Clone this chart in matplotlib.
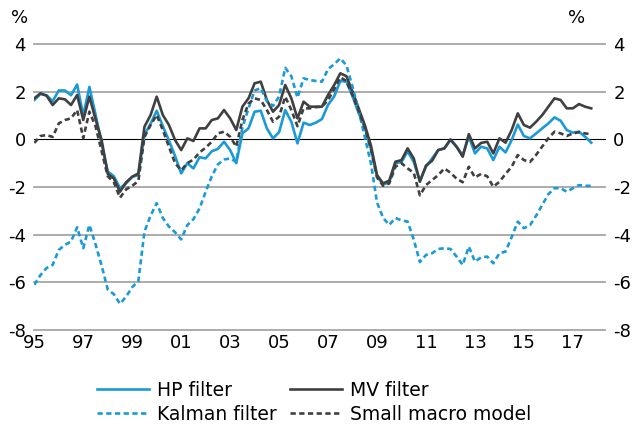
import numpy as np
import matplotlib.pyplot as plt
from matplotlib.lines import Line2D

# Output gap estimates, quarterly 1995Q1 - 2017Q4, per cent
hp_filter = [1.65, 1.9, 1.85, 1.6, 2.05, 2.05, 1.85, 2.3, 1.0, 2.2,
             1.05, -0.2, -1.35, -1.55, -2.05, -1.85, -1.57, -1.5, 0.2, 0.65,
             1.2, 0.55, -0.05, -0.7, -1.43, -1.0, -1.22, -0.75, -0.8, -0.5,
             -0.4, -0.1, -0.45, -1.0, 0.25, 0.46, 1.16, 1.2, 0.46, 0.04,
             0.3, 1.23, 0.74, -0.17, 0.7, 0.6, 0.7, 0.85, 1.45, 1.8,
             2.45, 2.42, 1.8, 1.1, 0.5, -0.4, -1.55, -1.9, -1.8, -1.0,
             -0.95, -0.5, -0.95, -1.75, -1.15, -0.8, -0.45, -0.38, -0.03, -0.31,
             -0.66, 0.11, -0.59, -0.31, -0.38, -0.87, -0.31, -0.55, -0.03, 0.62,
             0.14, 0.04, 0.25, 0.46, 0.67, 0.92, 0.78, 0.39, 0.28, 0.32,
             0.11, -0.14]

mv_filter = [1.72, 1.93, 1.83, 1.44, 1.72, 1.68, 1.44, 1.86, 0.81, 1.79,
             0.85, -0.03, -1.45, -1.64, -2.2, -1.8, -1.57, -1.43, 0.53, 1.02,
             1.79, 1.02, 0.6, -0.03, -0.45, 0.04, -0.07, 0.46, 0.46, 0.81,
             0.88, 1.23, 0.88, 0.39, 1.37, 1.72, 2.35, 2.42, 1.65, 1.16,
             1.44, 2.28, 1.72, 0.88, 1.58, 1.37, 1.37, 1.37, 1.86, 2.28,
             2.77, 2.65, 2.0, 1.3, 0.6, -0.25, -1.5, -1.85, -1.73, -0.94,
             -0.87, -0.38, -0.8, -1.78, -1.1, -0.9, -0.45, -0.38, 0.0, -0.31,
             -0.73, 0.22, -0.38, -0.15, -0.1, -0.59, 0.04, -0.14, 0.39, 1.09,
             0.6, 0.49, 0.74, 1.02, 1.37, 1.72, 1.65, 1.3, 1.3, 1.48,
             1.37, 1.3]

kalman_filter = [-6.1, -5.7, -5.4, -5.27, -4.64, -4.43, -4.29, -3.69, -4.57, -3.59,
                 -4.4, -5.3, -6.3, -6.5, -6.9, -6.6, -6.2, -5.95, -3.87, -3.2,
                 -2.68, -3.3, -3.66, -3.9, -4.2, -3.6, -3.35, -2.9, -2.2, -1.55,
                 -1.05, -0.85, -0.8, -0.95, 0.5, 1.3, 2.05, 2.15, 1.6, 1.4,
                 1.8, 3.0, 2.65, 1.75, 2.56, 2.49, 2.45, 2.42, 2.95, 3.15,
                 3.4, 3.1, 2.2, 1.2, 0.1, -1.0, -2.65, -3.3, -3.59, -3.3,
                 -3.4, -3.45, -4.2, -5.15, -4.85, -4.78, -4.6, -4.57, -4.6, -4.92,
                 -5.27, -4.5, -5.13, -4.95, -4.92, -5.2, -4.78, -4.71, -4.1, -3.45,
                 -3.73, -3.6, -3.2, -2.75, -2.3, -2.05, -2.05, -2.2, -2.05, -1.92,
                 -1.95, -1.95]

small_macro = [-0.15, 0.14, 0.18, 0.1, 0.67, 0.81, 0.88, 1.23, 0.05, 1.16,
               0.55, -0.5, -1.55, -1.8, -2.45, -2.1, -1.95, -1.75, 0.1, 0.6,
               1.02, 0.39, -0.31, -1.0, -1.3, -1.0, -0.85, -0.55, -0.35, -0.1,
               0.25, 0.32, 0.11, -0.31, 0.81, 1.5, 1.72, 1.65, 1.23, 0.74,
               0.95, 1.79, 1.23, 0.55, 1.3, 1.3, 1.35, 1.37, 1.65, 2.1,
               2.6, 2.45, 1.85, 1.2, 0.5, -0.4, -1.6, -1.95, -1.85, -1.15,
               -1.0, -1.22, -1.4, -2.35, -1.92, -1.71, -1.5, -1.22, -1.4, -1.65,
               -1.8, -1.15, -1.6, -1.45, -1.55, -1.99, -1.78, -1.45, -1.15, -0.66,
               -0.87, -0.95, -0.65, -0.3, 0.05, 0.32, 0.25, 0.14, 0.25, 0.3,
               0.25, 0.21]

year_labels = ['95', '97', '99', '01', '03', '05', '07', '09', '11', '13', '15', '17']
y_ticks = [4, 2, 0, -2, -4, -6, -8]

blue = '#1B9AD6'
dark = '#404040'
grid_grey = '#A6A6A6'

plt.rcParams['font.family'] = ['DejaVu Sans']

fig = plt.figure(figsize=(6.33, 4.28), dpi=100)
ax = fig.add_axes([34 / 633, 1 - 330 / 428, 571 / 633, 286 / 428])

q = np.arange(len(hp_filter))

for y in y_ticks:
    if y == 0:
        ax.axhline(y, color='black', lw=0.8, zorder=1, clip_on=False)
    else:
        ax.axhline(y, color=grid_grey, lw=1.3, zorder=1, clip_on=False)

lw = 1.9
ax.plot(q, hp_filter, color=blue, lw=lw, zorder=3)
ax.plot(q, mv_filter, color=dark, lw=lw, zorder=4)
ax.plot(q, kalman_filter, color=blue, lw=lw, dashes=(2.0, 1.3), zorder=5)
ax.plot(q, small_macro, color=dark, lw=lw, dashes=(2.0, 1.3), zorder=6)

ax.set_xlim(-0.05, 93.25)
ax.set_ylim(-8, 4)
ax.set_xticks(np.arange(len(year_labels)) * 8)
ax.set_xticklabels(year_labels)
ax.set_yticks(y_ticks)
ax.set_yticklabels([str(v) for v in y_ticks])
ax.tick_params(axis='both', length=0, labelsize=13)
ax.tick_params(axis='y', pad=6, labelright=True)
ax.tick_params(axis='x', pad=3)
for s in ax.spines.values():
    s.set_visible(False)

fig.text(20 / 633, 1 - 18 / 428, '%', fontsize=13, ha='center', va='center')
fig.text(577 / 633, 1 - 18 / 428, '%', fontsize=13, ha='center', va='center')

handles = [
    Line2D([], [], color=blue, lw=lw),
    Line2D([], [], color=blue, lw=lw, dashes=(2.0, 1.3)),
    Line2D([], [], color=dark, lw=lw),
    Line2D([], [], color=dark, lw=lw, dashes=(2.0, 1.3)),
]
labels = ['HP filter', 'Kalman filter', 'MV filter', 'Small macro model']
fig.legend(handles, labels, ncol=2, frameon=False, fontsize=13.5,
           loc='upper left', bbox_to_anchor=(97 / 633, 1 - 381 / 428),
           handlelength=2.75, handletextpad=0.45, columnspacing=0.73,
           labelspacing=0.25, borderpad=0, borderaxespad=0)

fig.savefig('out.png', dpi=100)
